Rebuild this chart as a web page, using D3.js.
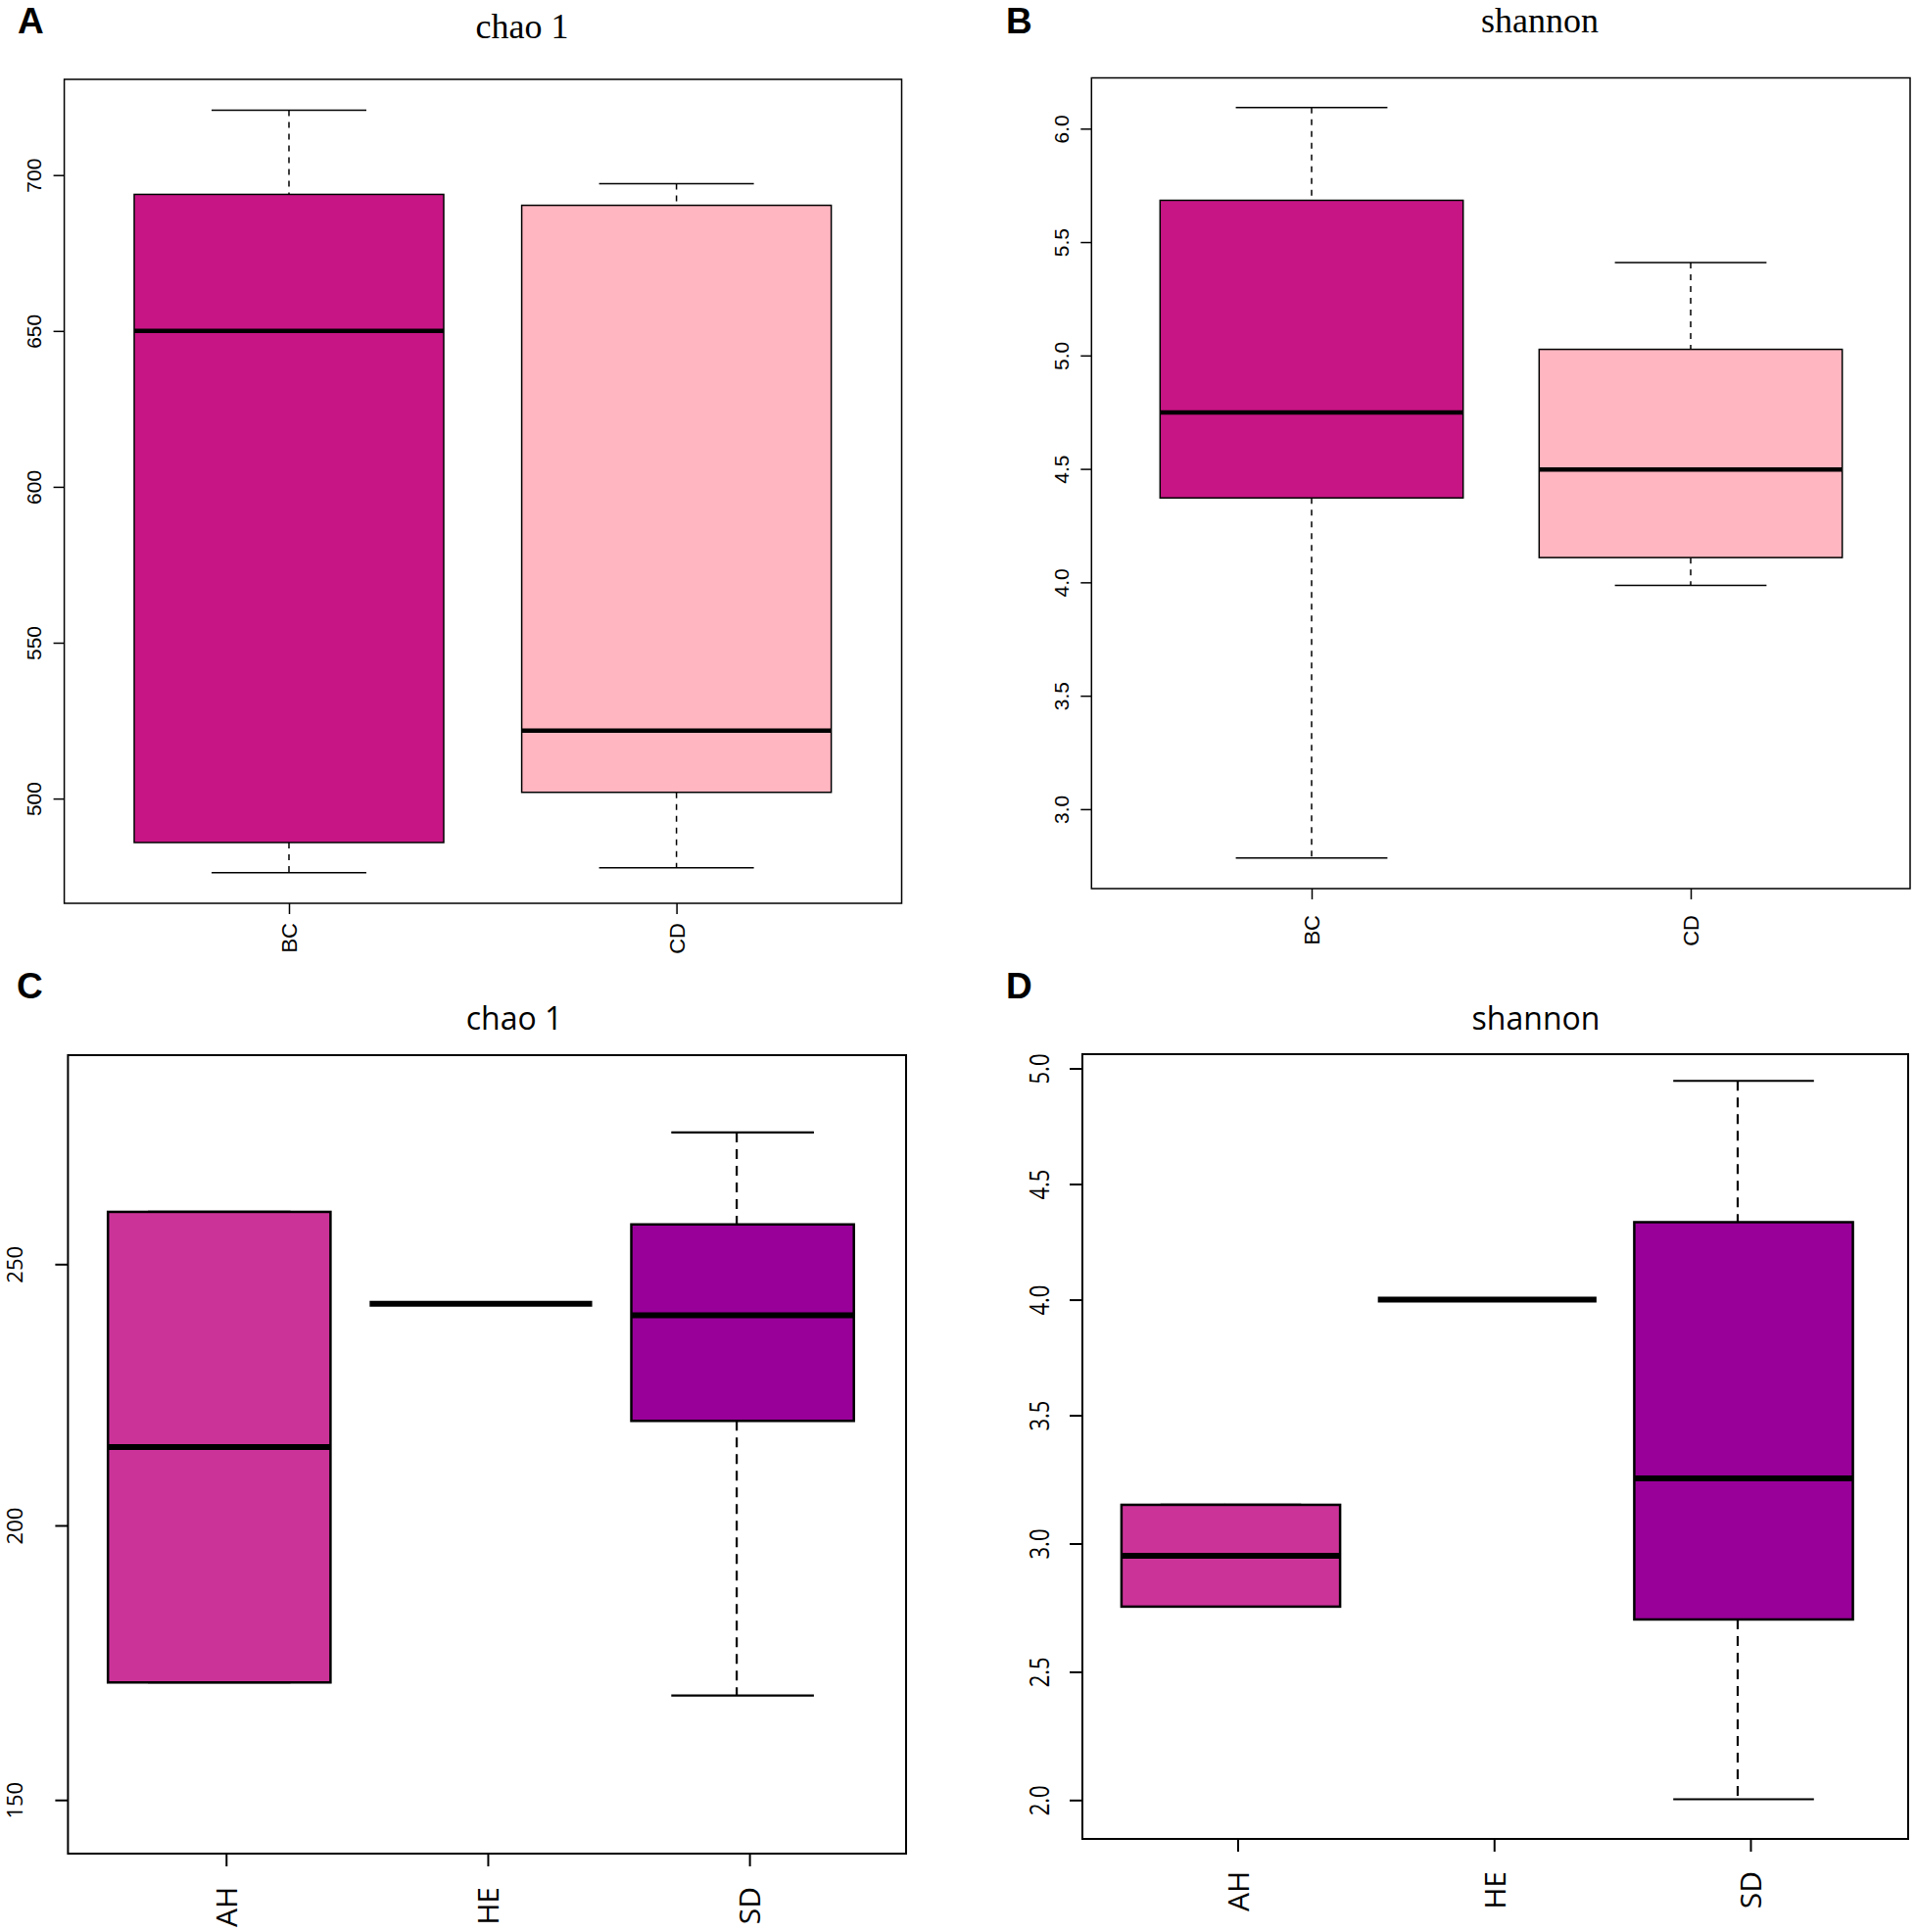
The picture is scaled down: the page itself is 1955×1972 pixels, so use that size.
<!DOCTYPE html>
<html>
<head>
<meta charset="utf-8">
<script src="https://cdn.jsdelivr.net/npm/d3@7"></script>
<style>
  body { margin: 0; background: #fff; }
  svg { display: block; }
</style>
</head>
<body>
<svg width="1955" height="1972"></svg>
<script>
// box stats: [lower whisker, Q1, median, Q3, upper whisker]
const groupsTop = ['BC', 'CD'];
const chaoTop = [
  [476.2, 485.9, 650.0, 693.8, 720.8],
  [477.8, 502.0, 521.8, 690.3, 697.2]
];
const shannonTop = [
  [2.785, 4.372, 4.749, 5.684, 6.093],
  [3.986, 4.109, 4.497, 5.027, 5.410]
];
const groupsBottom = ['AH', 'HE', 'SD'];
const chaoBottom = [
  [171.4, 171.4, 215.0, 260.0, 260.0],
  [242.4, 242.4, 242.4, 242.4, 242.4],
  [169.0, 220.0, 240.2, 257.6, 275.2]
];
const shannonBottom = [
  [2.754, 2.754, 2.952, 3.151, 3.151],
  [4.0, 4.0, 4.0, 4.0, 4.0],
  [2.003, 2.704, 3.254, 4.335, 4.946]
];
const chaoTopTicks = [500, 550, 600, 650, 700];
const shannonTopTicks = [3.0, 3.5, 4.0, 4.5, 5.0, 5.5, 6.0];
const chaoBottomTicks = [150, 200, 250];
const shannonBottomTicks = [2.0, 2.5, 3.0, 3.5, 4.0, 4.5, 5.0];

const topColors = ['#C71585', '#FFB6C1'];
const bottomColors = ['#CC3399', '#FFFFFF', '#990099'];

const svg = d3.select('svg');

function drawPanel(p) {
  const g = svg.append('g').attr('class', 'panel');

  const x = d3.scalePoint()
      .domain(p.groups)
      .range(p.centers);
  const y = d3.scaleLinear()
      .domain(p.yDomain)
      .range(p.yRange);

  // whiskers
  p.stats.forEach((s, i) => {
    const cx = x(p.groups[i]);
    const wx = cx + p.whiskerShift;
    g.append('line')
        .attr('x1', wx).attr('x2', wx)
        .attr('y1', y(s[4])).attr('y2', y(s[3]))
        .attr('stroke', '#000')
        .attr('stroke-width', p.whiskerWidth)
        .attr('stroke-dasharray', p.dash);
    g.append('line')
        .attr('x1', wx).attr('x2', wx)
        .attr('y1', y(s[1])).attr('y2', y(s[0]))
        .attr('stroke', '#000')
        .attr('stroke-width', p.whiskerWidth)
        .attr('stroke-dasharray', p.dash);
    [s[0], s[4]].forEach(v => {
      g.append('line')
          .attr('x1', cx - p.capHalf).attr('x2', cx + p.capHalf)
          .attr('y1', y(v)).attr('y2', y(v))
          .attr('stroke', '#000')
          .attr('stroke-width', p.whiskerWidth);
    });
  });

  // boxes
  p.stats.forEach((s, i) => {
    const cx = x(p.groups[i]);
    if (s[3] > s[1]) {
      g.append('rect')
          .attr('x', cx - p.boxHalf)
          .attr('y', y(s[3]))
          .attr('width', 2 * p.boxHalf)
          .attr('height', y(s[1]) - y(s[3]))
          .attr('fill', p.colors[i])
          .attr('stroke', '#000')
          .attr('stroke-width', p.boxStroke);
    }
    g.append('line')
        .attr('x1', cx - p.boxHalf).attr('x2', cx + p.boxHalf)
        .attr('y1', y(s[2])).attr('y2', y(s[2]))
        .attr('stroke', '#000')
        .attr('stroke-width', p.medWidth);
  });

  // frame
  g.append('rect')
      .attr('x', p.frame[0])
      .attr('y', p.frame[1])
      .attr('width', p.frame[2] - p.frame[0])
      .attr('height', p.frame[3] - p.frame[1])
      .attr('fill', 'none')
      .attr('stroke', '#000')
      .attr('stroke-width', p.frameStroke);

  // y axis
  const yAxis = d3.axisLeft(y)
      .tickValues(p.ticks)
      .tickSize(p.tickLen)
      .tickFormat(p.fmt);
  const ya = g.append('g')
      .attr('transform', `translate(${p.frame[0]},0)`)
      .call(yAxis);
  ya.select('.domain').remove();
  ya.selectAll('line').attr('stroke-width', p.frameStroke);
  ya.selectAll('text')
      .attr('x', 0).attr('y', 0).attr('dy', null)
      .attr('text-anchor', 'middle')
      .attr('transform', `translate(${-p.yLabelGap},0) rotate(-90) scale(1,${p.yLabelStretch})`)
      .style('font-family', p.font)
      .style('font-size', p.yLabelSize + 'px')
      .attr('fill', '#000');

  // x axis
  const xAxis = d3.axisBottom(x)
      .tickSize(p.tickLen);
  const xa = g.append('g')
      .attr('transform', `translate(${p.tickShift},${p.frame[3]})`)
      .call(xAxis);
  xa.select('.domain').remove();
  xa.selectAll('line').attr('stroke-width', p.frameStroke);
  xa.selectAll('text')
      .attr('x', 0).attr('y', 0)
      .attr('dy', '0.36em')
      .attr('text-anchor', 'end')
      .attr('transform', `translate(0,${p.xLabelGap}) rotate(-90)`)
      .style('font-family', p.font)
      .style('font-size', p.xLabelSize + 'px')
      .attr('fill', '#000');

  // title
  svg.append('text')
      .attr('x', p.titlePos[0])
      .attr('y', p.titlePos[1])
      .attr('text-anchor', 'middle')
      .style('font-family', p.titleFont)
      .style('font-size', p.titleSize + 'px')
      .text(p.title);

  // panel letter
  svg.append('text')
      .attr('x', p.letterPos[0])
      .attr('y', p.letterPos[1])
      .style('font-family', 'Liberation Sans, Arial, sans-serif')
      .style('font-weight', 'bold')
      .style('font-size', '37px')
      .text(p.letter);
}

const topStyle = {
  font: 'Liberation Sans, Arial, sans-serif',
  titleFont: 'Liberation Serif, Times New Roman, serif',
  titleSize: 36,
  yLabelSize: 21,
  yLabelStretch: 1,
  xLabelSize: 22,
  tickLen: 11,
  frameStroke: 1.5,
  boxStroke: 1.5,
  whiskerWidth: 1.5,
  medWidth: 4.5,
  dash: '6,6',
  tickShift: 0,
  whiskerShift: 0,
  colors: topColors,
  groups: groupsTop
};

const bottomStyle = {
  font: 'Open Sans, Noto Sans, sans-serif',
  titleFont: 'Open Sans, Noto Sans, sans-serif',
  titleSize: 32,
  yLabelSize: 22,
  xLabelSize: 30,
  tickLen: 13,
  frameStroke: 2,
  boxStroke: 2.5,
  whiskerWidth: 2.2,
  medWidth: 6,
  dash: '10,7',
  tickShift: 7,
  whiskerShift: -6,
  colors: bottomColors,
  groups: groupsBottom
};

drawPanel(Object.assign({}, topStyle, {
  letter: 'A', letterPos: [18, 34],
  title: 'chao 1', titlePos: [533, 39],
  stats: chaoTop, ticks: chaoTopTicks, fmt: d3.format('d'),
  frame: [65.6, 81, 920.5, 922],
  centers: [295, 690.6],
  boxHalf: 158, capHalf: 79,
  yDomain: [500, 700], yRange: [815.1, 178.7],
  yLabelGap: 24, xLabelGap: 20
}));

drawPanel(Object.assign({}, topStyle, {
  letter: 'B', letterPos: [1027, 34],
  title: 'shannon', titlePos: [1572, 33],
  stats: shannonTop, ticks: shannonTopTicks, fmt: d3.format('.1f'),
  frame: [1114.3, 79.5, 1950, 907],
  centers: [1339, 1726],
  boxHalf: 154.7, capHalf: 77.4,
  yDomain: [3.0, 6.0], yRange: [825.9, 131.3],
  yLabelGap: 23, xLabelGap: 27
}));

drawPanel(Object.assign({}, bottomStyle, {
  letter: 'C', letterPos: [17, 1019],
  title: 'chao 1', titlePos: [525, 1051],
  stats: chaoBottom, ticks: chaoBottomTicks, fmt: d3.format('d'),
  frame: [69.4, 1077, 925, 1892],
  centers: [223.8, 758.1],
  boxHalf: 113.6, capHalf: 72.8,
  yDomain: [150, 200, 250], yRange: [1837.2, 1557, 1290.3],
  yLabelGap: 46, yLabelStretch: 1, xLabelGap: 34
}));

drawPanel(Object.assign({}, bottomStyle, {
  letter: 'D', letterPos: [1027, 1019],
  title: 'shannon', titlePos: [1568, 1051],
  stats: shannonBottom, ticks: shannonBottomTicks, fmt: d3.format('.1f'),
  frame: [1105, 1076, 1948, 1877],
  centers: [1256.5, 1780],
  boxHalf: 111.6, capHalf: 71.8,
  yDomain: [2.0, 3.5, 5.0], yRange: [1837.3, 1444.6, 1090.5],
  yLabelGap: 34, yLabelStretch: 1.25, xLabelGap: 33
}));
</script>
</body>
</html>
